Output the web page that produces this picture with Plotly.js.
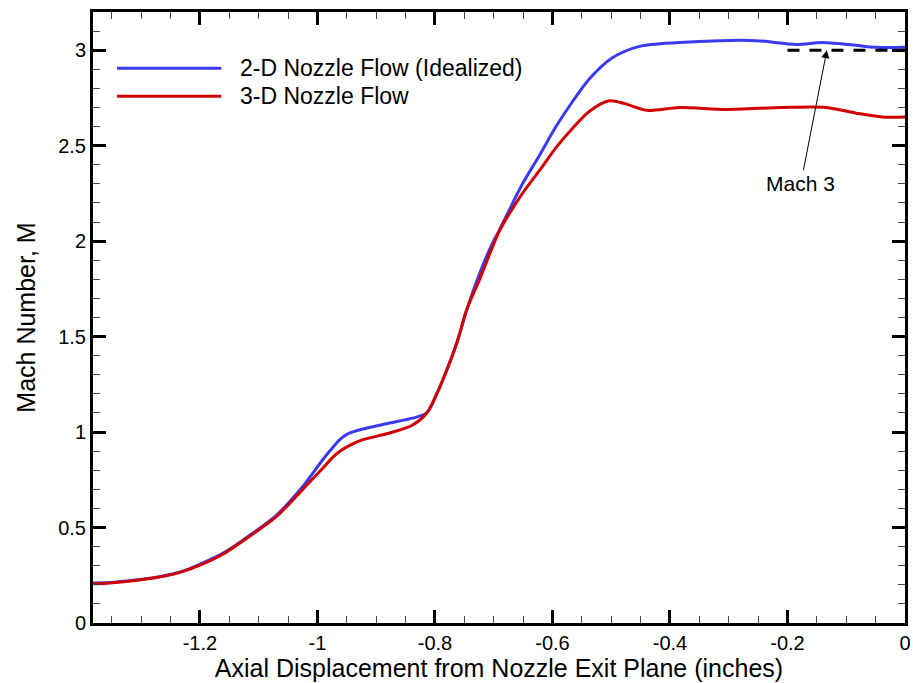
<!DOCTYPE html>
<html><head><meta charset="utf-8">
<script src="https://cdn.plot.ly/plotly-3.0.1.min.js"></script>
<style>html,body{margin:0;padding:0;background:#fff}</style>
</head><body><div id="chart" style="width:913px;height:683px"></div>
<script>
const seriesNames = ['2-D Nozzle Flow (Idealized)', '3-D Nozzle Flow'];
const x2d = [-1.384,-1.353,-1.31,-1.274,-1.24,-1.217,-1.202,-1.161,-1.115,-1.069,-1.025,-0.991,-0.975,-0.962,-0.95,-0.936,-0.923,-0.877,-0.838,-0.814,-0.797,-0.787,-0.763,-0.746,-0.724,-0.702,-0.69,-0.651,-0.622,-0.594,-0.566,-0.537,-0.498,-0.452,-0.384,-0.316,-0.253,-0.185,-0.141,-0.095,-0.049,0];
const m2d = [0.21,0.212,0.225,0.24,0.262,0.285,0.305,0.365,0.46,0.567,0.715,0.855,0.915,0.96,0.988,1.005,1.016,1.047,1.073,1.10,1.20,1.27,1.465,1.64,1.83,1.99,2.06,2.30,2.45,2.60,2.73,2.85,2.96,3.02,3.04,3.05,3.05,3.03,3.04,3.03,3.015,3.015];
const x3d = [-1.384,-1.353,-1.31,-1.274,-1.24,-1.217,-1.202,-1.161,-1.115,-1.069,-1.025,-0.991,-0.975,-0.96,-0.945,-0.923,-0.877,-0.838,-0.814,-0.797,-0.787,-0.763,-0.746,-0.724,-0.702,-0.69,-0.651,-0.622,-0.594,-0.566,-0.537,-0.503,-0.477,-0.44,-0.384,-0.304,-0.209,-0.134,-0.083,-0.039,0];
const m3d = [0.205,0.21,0.222,0.238,0.26,0.283,0.30,0.36,0.455,0.56,0.70,0.81,0.865,0.903,0.93,0.96,0.995,1.037,1.10,1.20,1.27,1.465,1.64,1.80,1.97,2.055,2.25,2.37,2.49,2.59,2.68,2.735,2.72,2.685,2.70,2.69,2.70,2.70,2.67,2.65,2.65];
const machRefX = [-0.2, 0];
const machRefY = [3, 3];
const machLabel = 'Mach 3';
const machArrowX = -0.133;
const xTickVals = [-1.2,-1,-0.8,-0.6,-0.4,-0.2,0];
const xTickText = ['-1.2','-1','-0.8','-0.6','-0.4','-0.2','0'];
const yTickVals = [0,0.5,1,1.5,2,2.5,3];
const yTickText = ['0','0.5','1','1.5','2','2.5','3'];
const xTitle = 'Axial Displacement from Nozzle Exit Plane (inches)';
const yTitle = 'Mach Number, M';

const FONT = 'Liberation Sans, Arial, sans-serif';
const BLUE = '#3a3af0';
const RED = '#d10000';

const traces = [
  {x: x2d, y: m2d, mode: 'lines', name: seriesNames[0], showlegend: false,
   line: {color: BLUE, width: 3, shape: 'spline', smoothing: 0.8}},
  {x: x3d, y: m3d, mode: 'lines', name: seriesNames[1], showlegend: false,
   line: {color: RED, width: 3, shape: 'spline', smoothing: 0.8}},
  {x: machRefX, y: machRefY, mode: 'lines', name: machLabel, showlegend: false,
   line: {color: '#000', width: 3, dash: '12px,10px'}}
];

const axisCommon = {
  showline: true, linewidth: 3, linecolor: '#000', mirror: 'ticks',
  ticks: 'inside', ticklen: 13, tickwidth: 3, tickcolor: '#000',
  showgrid: false, zeroline: false,
  tickfont: {family: FONT, size: 20, color: '#000'}
};

const layout = {
  width: 913, height: 683,
  margin: {l: 93, r: 8, t: 12, b: 60},
  paper_bgcolor: '#fff', plot_bgcolor: '#fff',
  font: {family: FONT, color: '#000'},
  xaxis: Object.assign({}, axisCommon, {
    range: [-1.382, 0], tickmode: 'array', tickvals: xTickVals, ticktext: xTickText,
    minor: {tick0: 0, dtick: 0.05, ticks: 'inside', ticklen: 7, tickwidth: 1, tickcolor: '#444'},
    title: {text: xTitle, font: {family: FONT, size: 25, color: '#000'}, standoff: 4}
  }),
  yaxis: Object.assign({}, axisCommon, {
    range: [0, 3.2], tickmode: 'array', tickvals: yTickVals, ticktext: yTickText,
    minor: {tick0: 0, dtick: 0.1, ticks: 'inside', ticklen: 7, tickwidth: 1, tickcolor: '#444'},
    title: {text: yTitle, font: {family: FONT, size: 25, color: '#000'}, standoff: 16}
  }),
  shapes: [
    {type: 'line', xref: 'paper', yref: 'paper', x0: 0.0295, x1: 0.158, y0: 0.908, y1: 0.908,
     line: {color: BLUE, width: 3}},
    {type: 'line', xref: 'paper', yref: 'paper', x0: 0.0295, x1: 0.158, y0: 0.862, y1: 0.862,
     line: {color: RED, width: 3}}
  ],
  annotations: [
    {xref: 'paper', yref: 'paper', x: 0.179, y: 0.908, xanchor: 'left', yanchor: 'middle',
     text: seriesNames[0], showarrow: false, font: {family: FONT, size: 23, color: '#000'}},
    {xref: 'paper', yref: 'paper', x: 0.179, y: 0.862, xanchor: 'left', yanchor: 'middle',
     text: seriesNames[1], showarrow: false, font: {family: FONT, size: 23, color: '#000'}},
    {x: machArrowX, y: machRefY[0], xref: 'x', yref: 'y', text: machLabel,
     showarrow: true, arrowhead: 2, arrowsize: 1.6, arrowwidth: 1, arrowcolor: '#000',
     standoff: 0, ax: -26, ay: 133, font: {family: FONT, size: 21, color: '#000'}}
  ]
};

Plotly.newPlot('chart', traces, layout, {displayModeBar: false, staticPlot: true});
</script></body></html>
